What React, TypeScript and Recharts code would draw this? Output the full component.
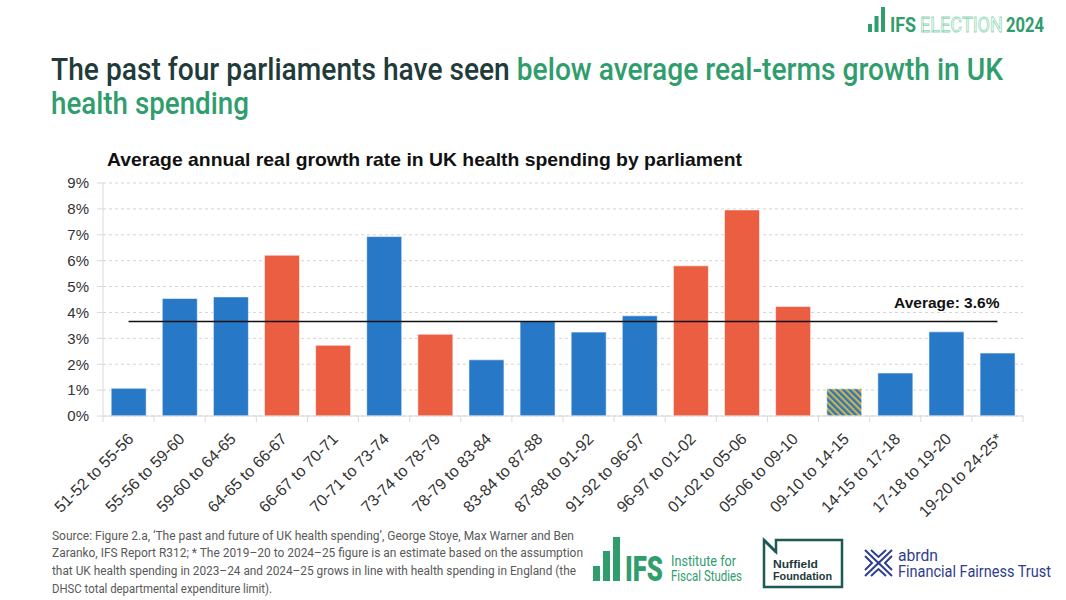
import React from 'react';
import { ComposedChart, Bar, Line, XAxis, YAxis, CartesianGrid, Cell } from 'recharts';

const parliaments = [
  '51-52 to 55-56', '55-56 to 59-60', '59-60 to 64-65', '64-65 to 66-67', '66-67 to 70-71',
  '70-71 to 73-74', '73-74 to 78-79', '78-79 to 83-84', '83-84 to 87-88', '87-88 to 91-92',
  '91-92 to 96-97', '96-97 to 01-02', '01-02 to 05-06', '05-06 to 09-10', '09-10 to 14-15',
  '14-15 to 17-18', '17-18 to 19-20', '19-20 to 24-25*',
];
const growth = [1.07, 4.54, 4.6, 6.21, 2.73, 6.93, 3.16, 2.17, 3.65, 3.24, 3.87, 5.8, 7.96, 4.23, 1.05, 1.66, 3.25, 2.43];
const government = ['con', 'con', 'con', 'lab', 'lab', 'con', 'lab', 'con', 'con', 'con', 'con', 'lab', 'lab', 'lab', 'coalition', 'con', 'con', 'con'];
const averageGrowth = 3.65;
const averageLabel = 'Average: 3.6%';
const yTicks = [0, 1, 2, 3, 4, 5, 6, 7, 8, 9];

const sourceLines = [
  'Source: Figure 2.a, ‘The past and future of UK health spending’, George Stoye, Max Warner and Ben',
  'Zaranko, IFS Report R312; * The 2019–20 to 2024–25 figure is an estimate based on the assumption',
  'that UK health spending in 2023–24 and 2024–25 grows in line with health spending in England (the',
  'DHSC total departmental expenditure limit).',
];
const sourceWidths = [522, 531, 524, 220];

const BLUE = '#2878c8';
const RED = '#eb5e42';
const YELLOW = '#d9b23a';
const GREEN = '#2f9d6c';
const DARK = '#1f3b3a';
const NAVY = '#2f3d8f';
const TEAL = '#1d5a55';

const W = 1066;
const PLOT_LEFT = 103;
const PLOT_RIGHT = 1023;
const STEP = (PLOT_RIGHT - PLOT_LEFT) / parliaments.length;

const data = parliaments.map((p, i) => ({ name: p, value: growth[i], avg: averageGrowth, gov: government[i] }));

const fillFor = (gov: string) => (gov === 'lab' ? RED : gov === 'con' ? BLUE : 'url(#coalHatch)');

const roboto = 'Roboto, "Noto Sans", sans-serif';
const arial = '"Liberation Sans", Arial, sans-serif';
const fit = { lengthAdjust: 'spacingAndGlyphs' as const };

function XTick({ x, y, payload, index }: any) {
  return (
    <g>
      <line x1={x - STEP / 2} x2={x - STEP / 2} y1={y - 8} y2={y - 2} stroke="#d9d9d9" />
      {index === parliaments.length - 1 && (
        <line x1={x + STEP / 2} x2={x + STEP / 2} y1={y - 8} y2={y - 2} stroke="#d9d9d9" />
      )}
      <text
        x={x + 6}
        y={y + 16}
        transform={`rotate(-45 ${x + 6} ${y + 16})`}
        textAnchor="end"
        fontSize={16}
        fontFamily={arial}
        fill="#333"
      >
        {payload.value}
      </text>
    </g>
  );
}

function AvgLabel({ x, y, index }: any) {
  if (index !== parliaments.length - 1) return null;
  return (
    <text x={x + 2} y={y - 14} textAnchor="end" fontSize={15.5} fontWeight={700} fontFamily={arial} fill="#111">
      {averageLabel}
    </text>
  );
}

function Overlay() {
  return (
    <svg width={W} height={600} style={{ position: 'absolute', left: 0, top: 0, pointerEvents: 'none' }}>
      {/* top-right badge */}
      <rect x={868} y={24} width={4} height={8} fill={GREEN} />
      <rect x={874.5} y={16} width={4} height={16} fill={GREEN} />
      <rect x={881} y={7} width={4} height={25} fill={GREEN} />
      <text x={890} y={32} fontFamily={roboto} fontWeight={700} fontSize={21} fill={GREEN} textLength={26} {...fit}>IFS</text>
      <text x={920} y={32} fontFamily={roboto} fontWeight={400} fontSize={21} fill="none" stroke="#8fd6b4" strokeWidth={0.8} textLength={83} {...fit}>ELECTION</text>
      <text x={1006} y={32} fontFamily={roboto} fontWeight={700} fontSize={21} fill={GREEN} textLength={38} {...fit}>2024</text>

      {/* title */}
      <text x={51} y={80} fontFamily={roboto} fontWeight={500} fontSize={31.5} fill={DARK} textLength={952} {...fit}>
        The past four parliaments have seen <tspan fill={GREEN}>below average real-terms growth in UK</tspan>
      </text>
      <text x={51} y={114} fontFamily={roboto} fontWeight={500} fontSize={31.5} fill={GREEN} textLength={198} {...fit}>
        health spending
      </text>

      {/* chart title */}
      <text x={107} y={166} fontFamily={arial} fontWeight={700} fontSize={18.5} fill="#111" textLength={635} {...fit}>
        Average annual real growth rate in UK health spending by parliament
      </text>

      {/* source note */}
      {sourceLines.map((s, i) => (
        <text key={i} x={52} y={539.5 + i * 17.7} fontFamily={roboto} fontSize={12.5} fill="#595959" textLength={sourceWidths[i]} {...fit}>
          {s}
        </text>
      ))}

      {/* IFS logo */}
      <rect x={593} y={566} width={7} height={15} fill={GREEN} />
      <rect x={603} y={551} width={7} height={30} fill={GREEN} />
      <rect x={613} y={537} width={7} height={44} fill={GREEN} />
      <text x={625} y={581} fontFamily={roboto} fontWeight={900} fontSize={35} fill={GREEN} textLength={38} {...fit}>IFS</text>
      <text x={671} y={566} fontFamily={roboto} fontSize={15} fill={GREEN} textLength={65} {...fit}>Institute for</text>
      <text x={671} y={581} fontFamily={roboto} fontSize={15} fill={GREEN} textLength={71} {...fit}>Fiscal Studies</text>

      {/* Nuffield Foundation logo */}
      <path d="M764 540 L764 587 L842 587 L842 540 L776 540 L776 552 Z" fill="none" stroke={TEAL} strokeWidth={2.5} />
      <path d="M764 540 L776 552" stroke={TEAL} strokeWidth={2.5} />
      <text x={773} y={568} fontFamily={arial} fontWeight={700} fontSize={11.5} fill="#1d3b3a" textLength={45} {...fit}>Nuffield</text>
      <text x={773} y={580} fontFamily={arial} fontWeight={700} fontSize={11.5} fill="#1d3b3a" textLength={59} {...fit}>Foundation</text>

      {/* abrdn logo */}
      <g stroke={NAVY} strokeWidth={2} fill="none">
        <path d="M865 550 L878.5 563 L892 550" />
        <path d="M865 576 L878.5 563 L892 576" />
        <path d="M865 556 L872 563 L865 570" />
        <path d="M892 556 L885 563 L892 570" />
        <path d="M871 550 L878.5 557 L886 550" />
        <path d="M871 576 L878.5 569 L886 576" />
      </g>
      <text x={898} y={561} fontFamily={roboto} fontSize={16} fill={NAVY} textLength={40} {...fit}>abrdn</text>
      <text x={898} y={577} fontFamily={roboto} fontSize={16} fill={NAVY} textLength={153} {...fit}>Financial Fairness Trust</text>
    </svg>
  );
}

export default function App() {
  return (
    <div style={{ position: 'absolute', left: 0, top: 0, width: W, height: 600, background: '#fff', overflow: 'hidden' }}>
      <div style={{ position: 'absolute', left: 0, top: 0 }}>
        <ComposedChart width={W} height={520} data={data} margin={{ top: 183, right: W - PLOT_RIGHT, left: PLOT_LEFT - 60, bottom: 0 }} barCategoryGap="16%">
          <defs>
            <pattern id="coalHatch" patternUnits="userSpaceOnUse" width={4.5} height={4.5} patternTransform="rotate(-45)">
              <rect width={4.5} height={4.5} fill={YELLOW} />
              <rect width={2.4} height={4.5} fill={BLUE} />
            </pattern>
          </defs>
          <CartesianGrid vertical={false} strokeDasharray="3 3" stroke="#d4d4d4" />
          <XAxis dataKey="name" interval={0} height={104} tickLine={false} axisLine={{ stroke: '#d9d9d9' }} tick={<XTick />} />
          <YAxis
            width={60}
            domain={[0, 9]}
            ticks={yTicks}
            tickFormatter={(v) => `${v}%`}
            tick={{ fontSize: 15, fontFamily: arial, fill: '#333' }}
            tickLine={{ stroke: '#d9d9d9' }}
            tickSize={6}
            tickMargin={8}
            axisLine={{ stroke: '#d9d9d9' }}
          />
          <Bar dataKey="value" isAnimationActive={false} stroke="#ffffff" strokeOpacity={0.55} strokeWidth={1}>
            {data.map((d) => (
              <Cell key={d.name} fill={fillFor(d.gov)} />
            ))}
          </Bar>
          <Line dataKey="avg" stroke="#111" strokeWidth={1.5} dot={false} activeDot={false} isAnimationActive={false} label={<AvgLabel />} />
        </ComposedChart>
      </div>
      <Overlay />
    </div>
  );
}
